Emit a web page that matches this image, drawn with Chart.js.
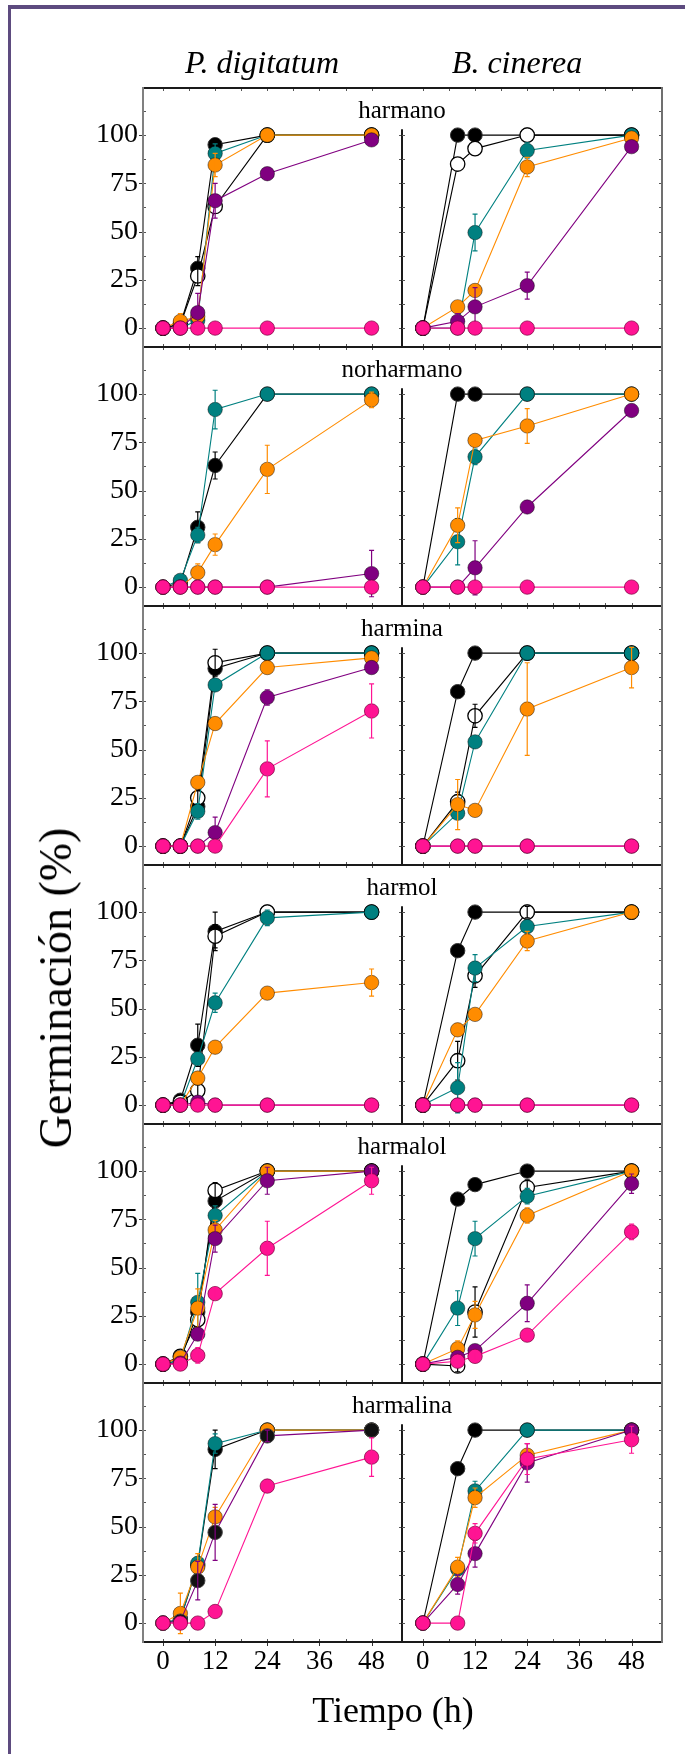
<!DOCTYPE html>
<html lang="es">
<head>
<meta charset="utf-8">
<title>Germinación</title>
<script src="https://cdn.jsdelivr.net/npm/chart.js@4.4.1/dist/chart.umd.min.js"></script>
<style>
  html, body { margin: 0; padding: 0; background: #fff; }
  #lienzo { position: relative; width: 685px; height: 1754px; overflow: hidden;
            font-family: 'Liberation Serif', 'Times New Roman', serif; color: #000; }
  #borde { position: absolute; left: 8px; top: 5px; right: -10px; bottom: -10px;
           border-left: 3px solid #5d4b7f; border-top: 4px solid #5d4b7f; }
  .txt { position: absolute; white-space: nowrap; line-height: 1; transform: translateX(-50%); }
  canvas { position: absolute; }
</style>
</head>
<body>
<div id="lienzo">
  <div id="borde"></div>
</div>
<script>
// Ejes
const compuestos = ['harmano', 'norharmano', 'harmina', 'harmol', 'harmalol', 'harmalina'];
const horasPd = [0, 4, 8, 12, 24, 48];
const horasBc = [0, 8, 12, 24, 48];
const yTicks = [0, 25, 50, 75, 100];
const xTicks = [0, 12, 24, 36, 48];

// series: negro, blanco, verde, naranja, morado, rosa (null = no se dibuja)
const harmanoPd = [
    [0, 2, 31, 95, 100, 100],
    [0, 2, 27, 63, 100, 100],
    [0, 0, 4, 90.5, 100, 100],
    [0, 3.5, 6, 84.5, 100, 100],
    [0, 0, 8, 66, 80, 97.5],
    [0, 0, 0, 0, 0, 0]
];
const harmanoPdErr = [
    [0, 0, 6, 3, 0, 0],
    [0, 3, 5, 0, 0, 0],
    [0, 0, 4, 5, 0, 0],
    [0, 4, 0, 6, 0, 0],
    [0, 0, 10, 9, 0, 0],
    [0, 0, 0, 0, 0, 0]
];
const harmanoBc = [
    [0, 100, 100, 100, 100],
    [0, 85, 93, 100, 100],
    [0, 0, 49.5, 92, 100],
    [0, 11, 19.5, 83.5, 98.5],
    [0, 3.5, 11, 22, 94],
    [0, 0, 0, 0, 0]
];
const harmanoBcErr = [
    [0, 0, 0, 0, 0],
    [0, 0, 0, 0, 0],
    [0, 3, 9.5, 4, 0],
    [0, 3, 3, 5, 0],
    [0, 4, 10, 7, 0],
    [0, 0, 0, 0, 0]
];

const norharmanoPd = [
    [0, 2, 31, 63, 100, 100],
    null,
    [0, 3.5, 27, 92, 100, 100],
    [0, 0, 7.5, 22, 61, 97],
    [0, 0, 0, 0, 0, 7],
    [0, 0, 0, 0, 0, 0]
];
const norharmanoPdErr = [
    [0, 0, 8, 7, 0, 0],
    null,
    [0, 3, 4, 10, 0, 3],
    [0, 0, 4.5, 5.5, 12.5, 4],
    [0, 0, 0, 0, 0, 12],
    [0, 0, 0, 0, 0, 0]
];
const norharmanoBc = [
    [0, 100, 100, 100, 100],
    null,
    [0, 23.5, 67.5, 100, 100],
    [0, 32, 76, 83.5, 100],
    [0, 0, 10, 41.5, 91.5],
    [0, 0, 0, 0, 0]
];
const norharmanoBcErr = [
    [0, 0, 0, 0, 0],
    null,
    [0, 12, 4, 0, 0],
    [0, 9, 0, 9, 0],
    [0, 0, 14, 0, 3],
    [0, 0, 0, 0, 0]
];

const harminaPd = [
    [0, 0, 20.5, 92, 100, 100],
    [0, 0, 25, 95, 100, 100],
    [0, 0, 18, 83.5, 100, 100],
    [0, 0, 33, 63.5, 92.5, 97.5],
    [0, 0, 0, 7, 77, 92.5],
    [0, 0, 0, 0, 40, 70]
];
const harminaPdErr = [
    [0, 0, 3, 0, 0, 0],
    [0, 0, 4, 7, 0, 0],
    [0, 0, 4, 0, 0, 0],
    [0, 0, 0, 0, 0, 0],
    [0, 0, 0, 8, 4, 0],
    [0, 0, 0, 0, 14.5, 14]
];
const harminaBc = [
    [0, 80, 100, 100, 100],
    [0, 23, 67.5, 100, 100],
    [0, 17, 54, 100, 100],
    [0, 21.5, 18.5, 71, 92.5],
    [0, 0, 0, 0, 0],
    [0, 0, 0, 0, 0]
];
const harminaBcErr = [
    [0, 0, 0, 0, 0],
    [0, 5, 6, 0, 0],
    [0, 3, 0, 0, 3],
    [0, 13, 0, 24, 10.5],
    [0, 0, 0, 0, 0],
    [0, 0, 0, 0, 0]
];

const harmolPd = [
    [0, 2.5, 31, 90, 100, 100],
    [0, 1.5, 7.5, 87.5, 100, 100],
    [0, 0, 24, 53, 97, 100],
    [0, 0, 14, 30, 58, 63.5],
    [0, 0, 1.5, 0, 0, 0],
    [0, 0, 0, 0, 0, 0]
];
const harmolPdErr = [
    [0, 1.5, 11, 10, 0, 0],
    [0, 0, 3, 6, 0, 0],
    [0, 0, 3, 5, 4, 0],
    [0, 0, 0, 0, 2, 7],
    [0, 0, 2, 0, 0, 0],
    [0, 0, 0, 0, 0, 0]
];
const harmolBc = [
    [0, 80, 100, 100, 100],
    [0, 23, 67, 100, 100],
    [0, 9, 71, 92.5, 100],
    [0, 39, 47, 85, 100],
    [0, 0, 0, 0, 0],
    [0, 0, 0, 0, 0]
];
const harmolBcErr = [
    [0, 0, 0, 0, 0],
    [0, 10, 6, 3, 0],
    [0, 13, 7, 0, 0],
    [0, 0, 0, 5, 0],
    [0, 0, 0, 0, 0],
    [0, 0, 0, 0, 0]
];

const harmalolPd = [
    [0, 2, 27, 84.5, 100, 100],
    [0, 4, 23, 90, 100, 100],
    [0, 2, 32, 77, 100, 100],
    [0, 3.5, 29, 69.5, 100, 100],
    [0, 0.5, 15.5, 65, 95, 100],
    [0, 0, 4.5, 36.5, 60, 95]
];
const harmalolPdErr = [
    [0, 2, 0, 0, 0, 0],
    [0, 0, 0, 4, 0, 0],
    [0, 0, 15, 5, 0, 0],
    [0, 0, 10, 5, 0, 0],
    [0, 0, 0, 7, 7, 0],
    [0, 0, 4, 3, 14, 7]
];
const harmalolBc = [
    [0, 85.5, 93, 100, 100],
    [0, -1, 27, 91.5, 100],
    [0, 29, 65, 87, 100],
    [0, 8, 25.5, 77, 100],
    [0, 3.5, 7, 31.5, 93.5],
    [0, 1.5, 4, 15, 68.5]
];
const harmalolBcErr = [
    [0, 0, 0, 0, 0],
    [0, 3, 13, 4, 0],
    [0, 9, 9, 4, 0],
    [0, 4, 7, 4, 0],
    [0, 2, 0, 9.5, 5],
    [0, 0, 2, 0, 4]
];

const harmalinaPd = [
    [0, 2, 30, 90, 100, 100],
    null,
    [0, 2, 31, 93, 100, 100],
    [0, 5, 29, 55, 100, 100],
    [0, 1, 22, 47, 97, 100],
    [0, 0, 0, 6, 71, 86]
];
const harmalinaPdErr = [
    [0, 0, 0, 10, 0, 0],
    null,
    [0, 0, 0, 5, 0, 0],
    [0, 10.5, 7, 5, 0, 0],
    [0, 2, 10, 14.5, 3, 0],
    [0, 0, 0, 0, 0, 10]
];
const harmalinaBc = [
    [0, 80, 100, 100, 100],
    null,
    [0, 28, 68.5, 100, 100],
    [0, 29, 65, 87, 100],
    [0, 20, 36, 83, 100],
    [0, 0, 46.5, 85, 95]
];
const harmalinaBcErr = [
    [0, 0, 0, 0, 0],
    null,
    [0, 0, 5, 0, 0],
    [0, 5, 5, 0, 0],
    [0, 5, 7, 10, 0],
    [0, 0, 5, 8, 7]
];

const datosPd = [harmanoPd, norharmanoPd, harminaPd, harmolPd, harmalolPd, harmalinaPd];
const erroresPd = [harmanoPdErr, norharmanoPdErr, harminaPdErr, harmolPdErr, harmalolPdErr, harmalinaPdErr];
const datosBc = [harmanoBc, norharmanoBc, harminaBc, harmolBc, harmalolBc, harmalinaBc];
const erroresBc = [harmanoBcErr, norharmanoBcErr, harminaBcErr, harmolBcErr, harmalolBcErr, harmalinaBcErr];

// Estilos de las series
const nombresSeries = ['negro', 'blanco', 'verde', 'naranja', 'morado', 'rosa'];
const colorRelleno = ['#000000', '#ffffff', '#008080', '#ff8c00', '#800080', '#ff1493'];
const colorLinea = ['#000000', '#000000', '#008080', '#ff8c00', '#800080', '#ff1493'];
const colorBorde = ['#333333', '#000000', 'rgba(0,0,0,0.45)', 'rgba(0,0,0,0.45)', 'rgba(0,0,0,0.45)', 'rgba(120,0,60,0.7)'];
// en harmalina / P. digitatum los marcadores morados salen casi negros
const marcadorOscuro = { panel: 5, serie: 4, color: '#111111' };

const fuente = "'Liberation Serif', 'Times New Roman', serif";
const Y_MIN = -9.8, Y_MAX = 124.4;
const ALTO = 259, TOP0 = 88;

// Marco, marcas menores y barras de error
const marcoPlugin = {
    id: 'marco',
    afterDatasetDraw(chart, args) {
        const ds = chart.data.datasets[args.index];
        if (!ds.errores) return;
        const { ctx } = chart;
        const x = chart.scales.x, y = chart.scales.y;
        ctx.save();
        ctx.strokeStyle = ds.borderColor;
        ctx.lineWidth = 1.2;
        ds.data.forEach((p, j) => {
            const e = ds.errores[j];
            if (!e) return;
            const px = x.getPixelForValue(p.x);
            const y1 = y.getPixelForValue(p.y - e);
            const y2 = y.getPixelForValue(p.y + e);
            ctx.beginPath();
            ctx.moveTo(px, y1); ctx.lineTo(px, y2);
            ctx.moveTo(px - 2.5, y1); ctx.lineTo(px + 2.5, y1);
            ctx.moveTo(px - 2.5, y2); ctx.lineTo(px + 2.5, y2);
            ctx.stroke();
        });
        ctx.restore();
    },
    afterDraw(chart, args, opts) {
        const { ctx, chartArea: a } = chart;
        const x = chart.scales.x, y = chart.scales.y;
        ctx.save();

        // marcas menores hacia dentro
        ctx.strokeStyle = '#555';
        ctx.lineWidth = 1;
        ctx.beginPath();
        for (let h = 0; h <= 48; h += 6) {
            const px = Math.round(x.getPixelForValue(h)) + 0.5;
            ctx.moveTo(px, a.top); ctx.lineTo(px, a.top + 3);
            ctx.moveTo(px, a.bottom); ctx.lineTo(px, a.bottom - 3);
        }
        for (let v = 0; v <= 112.5; v += 12.5) {
            const py = Math.round(y.getPixelForValue(v)) + 0.5;
            ctx.moveTo(a.left, py); ctx.lineTo(a.left + 3, py);
            ctx.moveTo(a.right, py); ctx.lineTo(a.right - 3, py);
        }
        ctx.stroke();

        // marcas mayores hacia fuera
        ctx.strokeStyle = '#333';
        ctx.beginPath();
        if (opts.lado === 'izq') {
            yTicks.forEach(v => {
                const py = Math.round(y.getPixelForValue(v)) + 0.5;
                ctx.moveTo(a.left, py); ctx.lineTo(a.left - 4, py);
            });
        }
        if (opts.ultima) {
            xTicks.forEach(h => {
                const px = Math.round(x.getPixelForValue(h)) + 0.5;
                ctx.moveTo(px, a.bottom); ctx.lineTo(px, a.bottom + 4);
            });
        }
        ctx.stroke();

        // marco
        ctx.lineWidth = 2;
        ctx.strokeStyle = '#1a1a1a';
        ctx.beginPath();
        ctx.moveTo(a.left, a.top); ctx.lineTo(a.right, a.top);
        ctx.moveTo(a.left, a.bottom); ctx.lineTo(a.right, a.bottom);
        ctx.stroke();
        if (opts.lado === 'izq') {
            ctx.strokeStyle = '#808080';
            ctx.beginPath();
            ctx.moveTo(a.left, a.top - 1); ctx.lineTo(a.left, a.bottom + 1);
            ctx.stroke();
            ctx.strokeStyle = '#1a1a1a';
            ctx.beginPath();
            ctx.moveTo(a.right, y.getPixelForValue(103)); ctx.lineTo(a.right, a.bottom);
            ctx.stroke();
        } else {
            ctx.strokeStyle = '#707070';
            ctx.beginPath();
            ctx.moveTo(a.right, a.top - 1); ctx.lineTo(a.right, a.bottom + 1);
            ctx.stroke();
        }
        ctx.restore();
    }
};

// tamaño fijo de los ejes, sin el relleno que Chart.js añade para las etiquetas
function fijarAncho(s) {
    s.width = s.options.display ? 83 : 0;
    s.paddingTop = 0; s.paddingBottom = 0; s.paddingLeft = 0; s.paddingRight = 0;
}
function fijarAlto(s) {
    s.height = s.options.display ? 50 : 0;
    s.paddingTop = 0; s.paddingBottom = 0; s.paddingLeft = 0; s.paddingRight = 0;
}

function crearPanel(canvas, k, horas, valores, errores, lado, ultima) {
    const datasets = [];
    valores.forEach((serie, i) => {
        if (!serie) return;
        const oscuro = lado === 'izq' && k === marcadorOscuro.panel && i === marcadorOscuro.serie;
        datasets.push({
            label: nombresSeries[i],
            data: horas.map((h, j) => ({ x: h, y: serie[j] })),
            errores: errores[i],
            borderColor: colorLinea[i],
            backgroundColor: colorRelleno[i],
            pointBackgroundColor: oscuro ? marcadorOscuro.color : colorRelleno[i],
            pointBorderColor: oscuro ? '#444' : colorBorde[i],
            pointBorderWidth: i === 1 ? 1.3 : 1,
            pointRadius: 7.2,
            borderWidth: 1.1,
            tension: 0,
            order: 5 - i
        });
    });

    const xMin = lado === 'izq' ? -4.6 : -4.8;
    return new Chart(canvas, {
        type: 'line',
        data: { datasets },
        options: {
            responsive: false,
            animation: false,
            events: [],
            layout: {
                padding: lado === 'izq'
                    ? { left: 0, right: 10, top: 10, bottom: ultima ? 0 : 10 }
                    : { left: 10, right: 13, top: 10, bottom: ultima ? 0 : 10 }
            },
            plugins: {
                legend: { display: false },
                tooltip: { enabled: false },
                marco: { lado, ultima }
            },
            scales: {
                x: {
                    type: 'linear',
                    min: xMin,
                    max: 55,
                    bounds: 'data',
                    display: ultima,
                    grid: { display: false, drawTicks: false },
                    border: { display: false },
                    ticks: { autoSkip: false, color: '#000', padding: 4, font: { family: fuente, size: 27 } },
                    afterBuildTicks: s => { s.ticks = xTicks.map(v => ({ value: v })); },
                    afterFit: fijarAlto
                },
                y: {
                    type: 'linear',
                    min: Y_MIN,
                    max: Y_MAX,
                    bounds: 'data',
                    display: lado === 'izq',
                    grid: { display: false, drawTicks: false },
                    border: { display: false },
                    ticks: { autoSkip: false, color: '#000', padding: 5, font: { family: fuente, size: 28 } },
                    afterBuildTicks: s => { s.ticks = yTicks.map(v => ({ value: v })); },
                    afterFit: fijarAncho
                }
            }
        },
        plugins: [marcoPlugin]
    });
}

const lienzo = document.getElementById('lienzo');

function texto(t, x, base, size, extra) {
    const d = document.createElement('div');
    d.className = 'txt';
    d.textContent = t;
    d.style.left = x + 'px';
    d.style.top = (base - 0.837 * size) + 'px';
    d.style.fontSize = size + 'px';
    if (extra) Object.assign(d.style, extra);
    lienzo.appendChild(d);
    return d;
}

function lienzoNuevo(left, top, w, h) {
    const c = document.createElement('canvas');
    c.width = w; c.height = h;
    c.style.left = left + 'px';
    c.style.top = top + 'px';
    c.style.width = w + 'px';
    c.style.height = h + 'px';
    lienzo.appendChild(c);
    return c;
}

compuestos.forEach((nombre, k) => {
    const top = TOP0 + ALTO * k;
    const ultima = k === compuestos.length - 1;
    const h = ultima ? 10 + ALTO + 50 : ALTO + 20;
    // izquierda: área de 143 a 402; derecha: de 402 a 662
    crearPanel(lienzoNuevo(60, top - 10, 352, h), k, horasPd, datosPd[k], erroresPd[k], 'izq', ultima);
    crearPanel(lienzoNuevo(392, top - 10, 283, h), k, horasBc, datosBc[k], erroresBc[k], 'der', ultima);
    texto(nombre, 402, top + 30, 25);
});

// Títulos
texto('P. digitatum', 262, 73, 32, { fontStyle: 'italic' });
texto('B. cinerea', 517, 73, 32, { fontStyle: 'italic' });
texto('Tiempo (h)', 393, 1722, 36);
const yTitulo = texto('Germinación (%)', 56, 0, 46);
yTitulo.style.top = '988px';
yTitulo.style.transform = 'translate(-50%, -50%) rotate(-90deg)';
</script>
</body>
</html>
